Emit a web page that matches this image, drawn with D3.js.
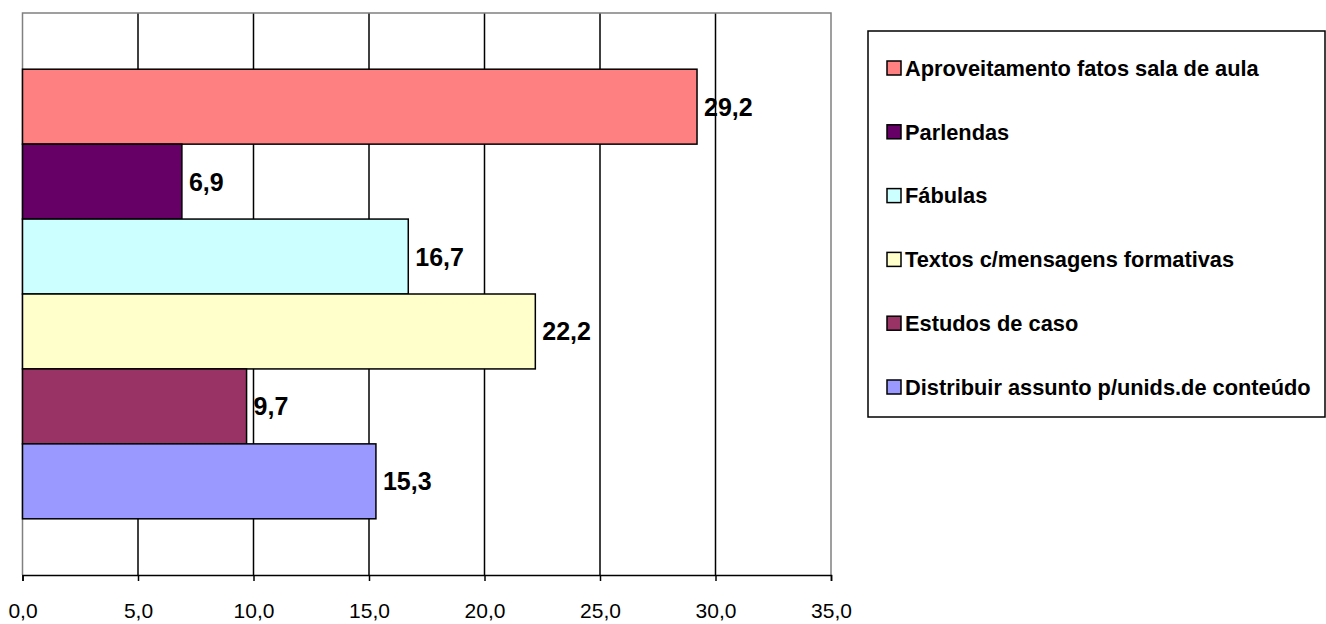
<!DOCTYPE html>
<html>
<head>
<meta charset="utf-8">
<script src="https://cdn.jsdelivr.net/npm/d3@7"></script>
<style>
  body { margin: 0; background: #fff; }
  svg text { font-family: Arial, "Liberation Sans", sans-serif; }
</style>
</head>
<body>
<div id="chart"></div>
<script>
var categories = ["Aproveitamento fatos sala de aula", "Parlendas", "Fábulas",
    "Textos c/mensagens formativas", "Estudos de caso", "Distribuir assunto p/unids.de conteúdo"]
var values = [29.2, 6.9, 16.7, 22.2, 9.7, 15.3]
var colors = ["#FF8080", "#660066", "#CCFFFF", "#FFFFCC", "#993366", "#9999FF"]
var tickValues = [0, 5, 10, 15, 20, 25, 30, 35]

var width = 1326, height = 624
var plot = { left: 22.5, top: 13, right: 831, bottom: 575 }

var svg = d3.select('#chart')
    .append('svg')
    .attr('width', width)
    .attr('height', height);

var x = d3.scaleLinear().domain([0, 35]).range([plot.left, plot.right])
var y = d3.scaleBand().domain(categories).range([plot.top, plot.bottom])
    .paddingInner(0).paddingOuter(0.75)

var fmt = function(d) { return d3.format(".1f")(d).replace(".", ",") }

// gridlines
svg.selectAll('line.grid')
    .data(tickValues.filter(function(d) { return d > 0 && d < 35 }))
    .enter()
    .append('line')
    .attr('class', 'grid')
    .attr('x1', function(d) { return x(d) })
    .attr('x2', function(d) { return x(d) })
    .attr('y1', plot.top)
    .attr('y2', plot.bottom)
    .attr('stroke', '#000')
    .attr('stroke-width', 1.5);

// plot frame (grey top/left/right)
svg.append('path')
    .attr('d', 'M' + plot.left + ',' + plot.bottom + 'V' + plot.top + 'H' + plot.right + 'V' + plot.bottom)
    .attr('fill', 'none')
    .attr('stroke', '#808080')
    .attr('stroke-width', 1.5);

// bars
svg.selectAll('rect.bar')
    .data(values)
    .enter()
    .append('rect')
    .attr('class', 'bar')
    .attr('x', x(0))
    .attr('y', function(d, i) { return y(categories[i]) })
    .attr('width', function(d) { return x(d) - x(0) })
    .attr('height', y.bandwidth())
    .attr('fill', function(d, i) { return colors[i] })
    .attr('stroke', '#000')
    .attr('stroke-width', 1.5);

// value labels
svg.selectAll('text.val')
    .data(values)
    .enter()
    .append('text')
    .attr('class', 'val')
    .attr('x', function(d) { return x(d) + 7 })
    .attr('y', function(d, i) { return y(categories[i]) + y.bandwidth() / 2 })
    .attr('dy', '0.36em')
    .attr('font-size', 25)
    .attr('font-weight', 'bold')
    .attr('fill', '#000')
    .text(function(d) { return fmt(d) });

// x axis
var axis = d3.axisBottom(x).tickValues(tickValues).tickFormat(fmt).tickSize(6).tickPadding(0)
var gAxis = svg.append('g')
    .attr('transform', 'translate(0,' + plot.bottom + ')')
    .call(axis);
gAxis.select('.domain').attr('stroke', '#000').attr('stroke-width', 1.5);
gAxis.selectAll('.tick line').attr('stroke', '#000').attr('stroke-width', 1.5);
gAxis.selectAll('.tick text')
    .attr('font-size', 21)
    .attr('font-family', 'Arial, "Liberation Sans", sans-serif')
    .attr('fill', '#000')
    .attr('y', 43)
    .attr('dy', 0);

// legend
var legend = svg.append('g')
legend.append('rect')
    .attr('x', 868)
    .attr('y', 31)
    .attr('width', 1325 - 868)
    .attr('height', 417 - 31)
    .attr('fill', '#fff')
    .attr('stroke', '#000')
    .attr('stroke-width', 1.5);

var ly = d3.scalePoint().domain(categories).range([68, 387])

var items = legend.selectAll('g.item')
    .data(categories)
    .enter()
    .append('g')
    .attr('class', 'item')
    .attr('transform', function(d) { return 'translate(0,' + ly(d) + ')' });

items.append('rect')
    .attr('x', 887)
    .attr('y', -7)
    .attr('width', 14)
    .attr('height', 14)
    .attr('fill', function(d, i) { return colors[i] })
    .attr('stroke', '#000')
    .attr('stroke-width', 1.5);

items.append('text')
    .attr('x', 905)
    .attr('y', 0)
    .attr('dy', '0.36em')
    .attr('font-size', 21.8)
    .attr('font-weight', 'bold')
    .attr('fill', '#000')
    .text(function(d) { return d });
</script>
</body>
</html>
